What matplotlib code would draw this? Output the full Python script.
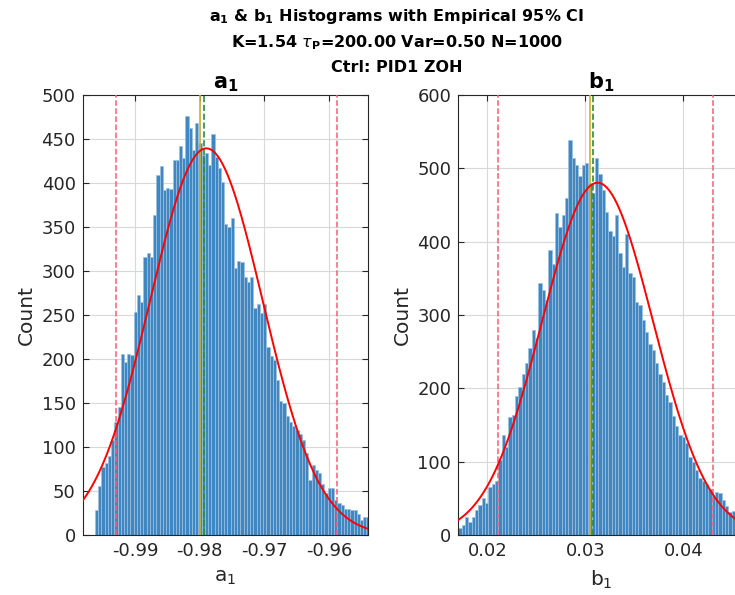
import numpy as np
import matplotlib
matplotlib.use('Agg')
import matplotlib.pyplot as plt

plt.rcParams['font.family'] = 'DejaVu Sans'
plt.rcParams['axes.unicode_minus'] = False
plt.rcParams['mathtext.fontset'] = 'dejavusans'

# a1 histogram (bin start, bin width, counts)
a1_bin_start = -0.9962
a1_bin_width = 0.0005
a1_counts = [28, 56, 77, 82, 90, 108, 128, 145, 206, 197, 206, 205, 254, 273, 265,
             316, 321, 316, 364, 409, 419, 392, 394, 393, 426, 426, 442, 428, 476,
             462, 437, 468, 445, 432, 434, 420, 456, 430, 417, 401, 354, 350, 360,
             303, 311, 310, 293, 288, 293, 258, 262, 252, 263, 214, 203, 199, 176,
             152, 150, 135, 129, 124, 119, 115, 108, 93, 62, 80, 74, 70, 58, 48, 54,
             54, 40, 36, 34, 30, 30, 28, 28, 24, 17, 21, 20]
a1_fit = {'mu': -0.97896, 'sigma': 0.0087, 'peak': 439.4}
a1_ci = [-0.99298, -0.95872]
a1_mean = -0.98002
a1_true = -0.97935
a1_xlim = [-0.99809, -0.95392]
a1_xticks = [-0.99, -0.98, -0.97, -0.96]
a1_yticks = list(range(0, 501, 50))

# b1 histogram
b1_bin_start = 0.01706
b1_bin_width = 0.00034
b1_counts = [9, 14, 25, 18, 25, 34, 41, 50, 43, 66, 70, 73, 102, 136, 120, 161, 164,
             189, 202, 220, 234, 255, 280, 268, 343, 334, 320, 389, 370, 439, 420,
             436, 459, 539, 514, 505, 489, 504, 507, 480, 466, 514, 492, 470, 441,
             415, 408, 436, 385, 365, 411, 357, 352, 318, 314, 293, 277, 261, 252,
             234, 220, 209, 191, 182, 162, 148, 137, 134, 126, 106, 100, 88, 78, 74,
             69, 63, 55, 58, 57, 48, 40, 32, 33, 28, 25, 22]
b1_fit = {'mu': 0.03125, 'sigma': 0.00566, 'peak': 480.4}
b1_ci = [0.02112, 0.04306]
b1_mean = 0.03044
b1_true = 0.03075
b1_xlim = [0.01704, 0.04618]
b1_xticks = [0.02, 0.03, 0.04]
b1_yticks = list(range(0, 601, 100))

BAR_FACE = '#4087c2'
BAR_EDGE = '#9cc1e0'
AX_COL = '#262626'


def draw_panel(ax, start, width, counts, fit, ci, mean, true_val, xlim, xticks, yticks, name):
    counts = np.array(counts)
    centers = start + width * (np.arange(len(counts)) + 0.5)
    ax.bar(centers, counts, width=width, color=BAR_FACE, edgecolor=BAR_EDGE,
           linewidth=0.5, zorder=2)
    xs = np.linspace(xlim[0], xlim[1], 400)
    ax.plot(xs, fit['peak'] * np.exp(-(xs - fit['mu']) ** 2 / (2 * fit['sigma'] ** 2)),
            color='red', lw=1.4, zorder=4)
    for c in ci:
        ax.axvline(c, color='#ff5a78', ls='--', lw=1.1, zorder=3)
    ax.axvline(mean, color='#c9b52a', lw=1.2, zorder=3)
    ax.axvline(true_val, color='#2f8a3c', ls='--', lw=1.2, zorder=3)

    ax.set_xlim(xlim)
    ax.set_ylim(yticks[0], yticks[-1])
    ax.set_xticks(xticks)
    ax.set_xticklabels([f'{t:g}' for t in xticks])
    ax.set_yticks(yticks)
    ax.grid(True, color='#d8d8d8', lw=0.8, zorder=0)
    ax.set_axisbelow(True)
    ax.tick_params(direction='in', length=4, labelsize=13, colors=AX_COL, pad=5,
                   top=True, right=True)
    for s in ax.spines.values():
        s.set_color(AX_COL)
        s.set_linewidth(0.8)
    ax.set_xlabel(rf'{name}$_1$', fontsize=14.5, color=AX_COL, labelpad=6)
    ax.set_ylabel('Count', fontsize=14.5, color=AX_COL, labelpad=4)
    ax.set_title(rf'$\mathbf{{{name}}}_\mathbf{{1}}$', fontsize=15, pad=5)


fig = plt.figure(figsize=(7.35, 5.95), dpi=100)
ax1 = fig.add_axes([0.1125, 0.1008, 0.3886, 0.7395])
ax2 = fig.add_axes([0.6235, 0.1008, 0.3886, 0.7395])

draw_panel(ax1, a1_bin_start, a1_bin_width, a1_counts, a1_fit, a1_ci, a1_mean, a1_true,
           a1_xlim, a1_xticks, a1_yticks, 'a')
draw_panel(ax2, b1_bin_start, b1_bin_width, b1_counts, b1_fit, b1_ci, b1_mean, b1_true,
           b1_xlim, b1_xticks, b1_yticks, 'b')

cx = 0.540
fig.text(cx, 1 - 17 / 595, r'$\mathbf{a}_\mathbf{1}$ & $\mathbf{b}_\mathbf{1}$ Histograms with Empirical 95% CI',
         ha='center', va='center', fontsize=11.5, fontweight='bold')
fig.text(cx, 1 - 43 / 595, r'K=1.54 $\tau_\mathbf{P}$=200.00 Var=0.50 N=1000',
         ha='center', va='center', fontsize=11.5, fontweight='bold')
fig.text(cx, 1 - 68 / 595, 'Ctrl: PID1 ZOH',
         ha='center', va='center', fontsize=11.5, fontweight='bold')

fig.savefig('out.png', dpi=100)
